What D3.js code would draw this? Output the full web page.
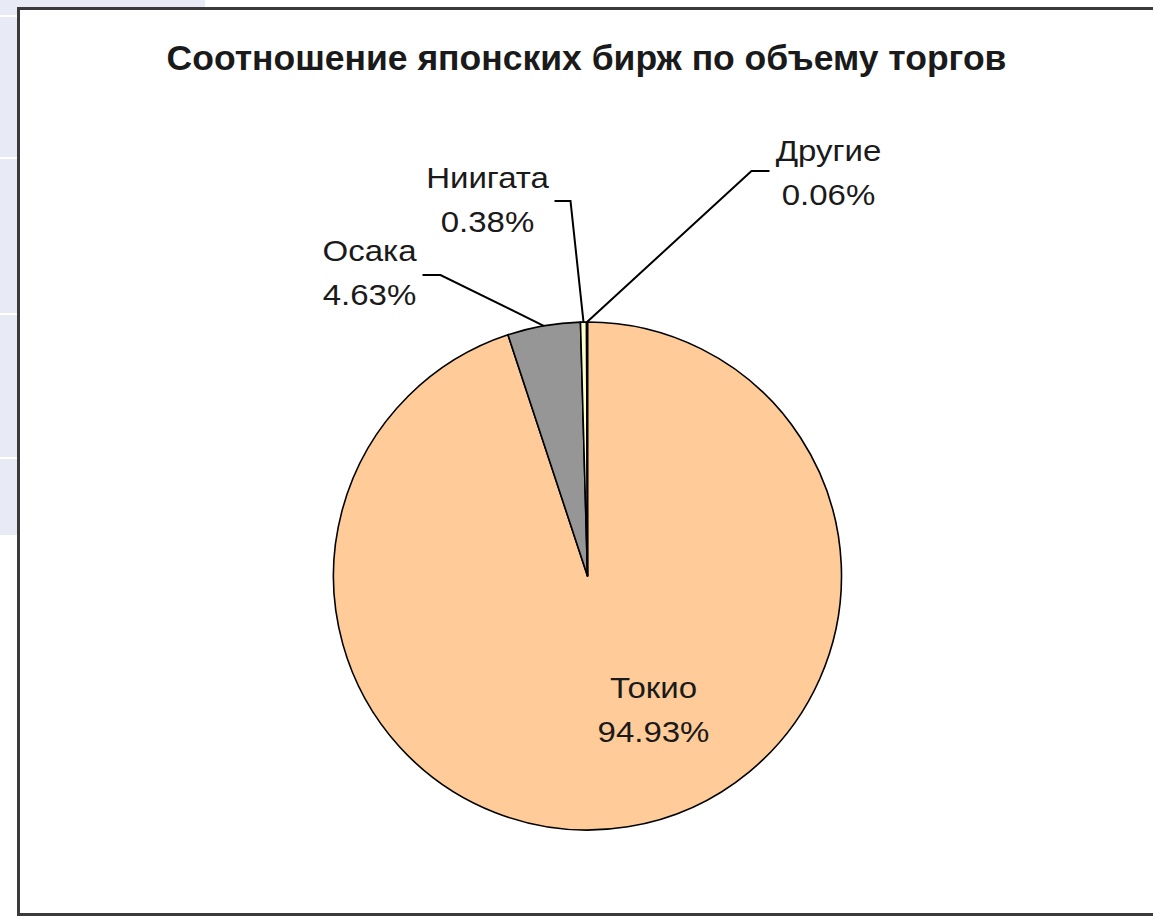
<!DOCTYPE html>
<html>
<head>
<meta charset="utf-8">
<script src="https://cdn.jsdelivr.net/npm/d3@7"></script>
<style>
  html, body { margin: 0; padding: 0; background: #ffffff; }
  svg { display: block; }
  text { font-family: "Liberation Sans", Arial, sans-serif; fill: #1a1a1a; }
</style>
</head>
<body>
<svg id="chart" width="1153" height="918"></svg>
<script>
// ---- data ----
const title = "Соотношение японских бирж по объему торгов";
const categories = ["Токио", "Осака", "Ниигата", "Другие"];
const values = [94.93, 4.63, 0.38, 0.06];
const valueLabels = ["94.93%", "4.63%", "0.38%", "0.06%"];

// ---- styles / layout ----
const colors = ["#ffcc99", "#969696", "#ffffcc", "#ffffff"];
const W = 1153, H = 918;
const cx = 587.5, cy = 576, R = 254;
// label anchor offsets from pie centre (px) and leader elbow points
const labelLayout = [
  { dx: 66, dy: 122, leader: null },
  { dx: -218, dy: -315, leader: [[-165, -301], [-147, -301]] },
  { dx: -100, dy: -388, leader: [[-33, -375], [-17, -375]] },
  { dx: 241, dy: -415, leader: [[182, -405], [164, -405]] }
];

const svg = d3.select("#chart");

// background table fragments behind the chart
const bg = svg.append("g");
bg.append("rect").attr("x", 0).attr("y", 0).attr("width", 205).attr("height", 10).attr("fill", "#e8eaf5");
bg.append("rect").attr("x", 0).attr("y", 0).attr("width", 20).attr("height", 535).attr("fill", "#e8eaf5");
[15, 157, 313, 457].forEach(y => {
  bg.append("rect").attr("x", 0).attr("y", y).attr("width", 17).attr("height", 2).attr("fill", "#ffffff");
});

// chart frame
svg.append("rect")
  .attr("x", 18.5).attr("y", 8.5)
  .attr("width", W + 20).attr("height", 906)
  .attr("fill", "#ffffff")
  .attr("stroke", "#3a3a3a").attr("stroke-width", 3);

// title
svg.append("text")
  .attr("x", 586.5).attr("y", 70)
  .attr("text-anchor", "middle")
  .style("font-weight", "bold")
  .style("font-size", "35.5px")
  .text(title);

// pie
const data = categories.map((c, i) => ({ name: c, value: values[i], label: valueLabels[i], i }));
const pie = d3.pie().sort(null).value(d => d.value).startAngle(0).endAngle(2 * Math.PI);
const arcs = pie(data);
const arc = d3.arc().innerRadius(0).outerRadius(R);
const edgeArc = d3.arc().innerRadius(R).outerRadius(R);

const g = svg.append("g").attr("transform", `translate(${cx},${cy})`);
g.selectAll("path.slice")
  .data(arcs)
  .join("path")
  .attr("class", "slice")
  .attr("d", arc)
  .attr("fill", d => colors[d.data.i])
  .attr("stroke", "#000")
  .attr("stroke-width", 1.6)
  .attr("stroke-linejoin", "round");

// leader lines
const line = d3.line();
arcs.forEach((d, k) => {
  const L = labelLayout[k];
  if (!L.leader) return;
  const end = edgeArc.centroid(d);
  g.append("path")
    .attr("d", line([...L.leader, end]))
    .attr("fill", "none")
    .attr("stroke", "#000")
    .attr("stroke-width", 2);
});

// labels
arcs.forEach((d, k) => {
  const L = labelLayout[k];
  const t = g.append("text")
    .attr("text-anchor", "middle")
    .style("font-size", "30px")
    .attr("transform", `translate(${L.dx},${L.dy}) scale(1.1,1)`);
  t.append("tspan").attr("x", 0).attr("y", 0).text(d.data.name);
  t.append("tspan").attr("x", 0).attr("y", 44).text(d.data.label);
});
</script>
</body>
</html>
